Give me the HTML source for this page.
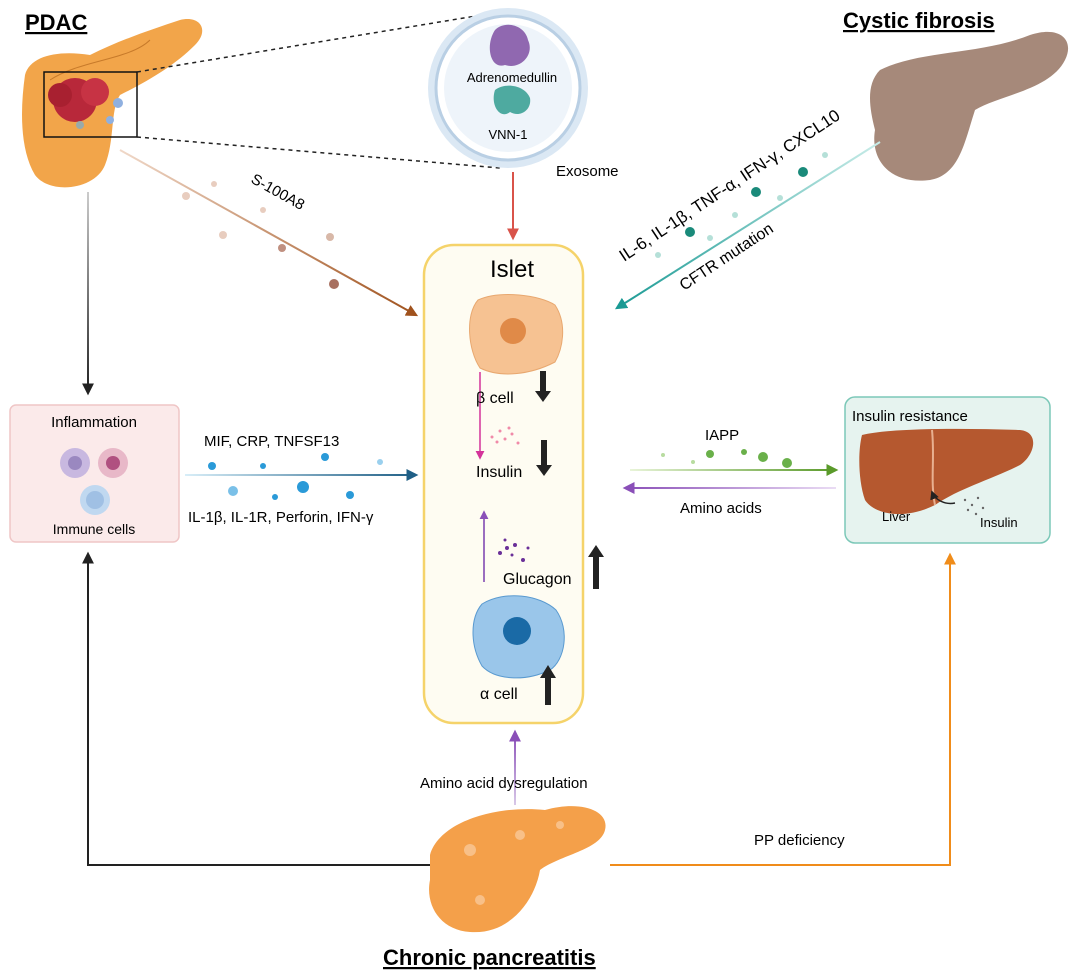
<!DOCTYPE html>
<html><head><meta charset="utf-8"><style>
html,body{margin:0;padding:0;background:#fff}
svg{display:block;font-family:"Liberation Sans",Arial,sans-serif}
</style></head><body>
<svg width="1080" height="979" viewBox="0 0 1080 979" xmlns="http://www.w3.org/2000/svg">
<defs>
<marker id="ab" viewBox="0 0 10 10" refX="8" refY="5" markerWidth="6" markerHeight="6" orient="auto"><path d="M0,0L10,5L0,10z" fill="#222"/></marker>
<marker id="ar" viewBox="0 0 10 10" refX="8" refY="5" markerWidth="6" markerHeight="6" orient="auto"><path d="M0,0L10,5L0,10z" fill="#d9534a"/></marker>
<marker id="abr" viewBox="0 0 10 10" refX="8" refY="5" markerWidth="6" markerHeight="6" orient="auto"><path d="M0,0L10,5L0,10z" fill="#a0521d"/></marker>
<marker id="at" viewBox="0 0 10 10" refX="8" refY="5" markerWidth="6" markerHeight="6" orient="auto"><path d="M0,0L10,5L0,10z" fill="#1a9a94"/></marker>
<marker id="abl" viewBox="0 0 10 10" refX="8" refY="5" markerWidth="6" markerHeight="6" orient="auto"><path d="M0,0L10,5L0,10z" fill="#1f5f86"/></marker>
<marker id="ag" viewBox="0 0 10 10" refX="8" refY="5" markerWidth="6" markerHeight="6" orient="auto"><path d="M0,0L10,5L0,10z" fill="#5a9a2a"/></marker>
<marker id="ap" viewBox="0 0 10 10" refX="8" refY="5" markerWidth="6" markerHeight="6" orient="auto"><path d="M0,0L10,5L0,10z" fill="#8a4fb8"/></marker>
<marker id="apk" viewBox="0 0 10 10" refX="8" refY="5" markerWidth="6" markerHeight="6" orient="auto"><path d="M0,0L10,5L0,10z" fill="#d4339a"/></marker>
<marker id="ao" viewBox="0 0 10 10" refX="8" refY="5" markerWidth="6" markerHeight="6" orient="auto"><path d="M0,0L10,5L0,10z" fill="#f08c1a"/></marker>
<linearGradient id="gbr" gradientUnits="userSpaceOnUse" x1="120" y1="150" x2="416" y2="315"><stop offset="0" stop-color="#f0d8c8"/><stop offset="1" stop-color="#a0521d"/></linearGradient>
<linearGradient id="gt" gradientUnits="userSpaceOnUse" x1="880" y1="142" x2="617" y2="308"><stop offset="0" stop-color="#c8ece8"/><stop offset="1" stop-color="#1a9a94"/></linearGradient>
<linearGradient id="gbl" gradientUnits="userSpaceOnUse" x1="185" y1="0" x2="416" y2="0"><stop offset="0" stop-color="#d8eef8"/><stop offset="1" stop-color="#1f5f86"/></linearGradient>
<linearGradient id="gg" gradientUnits="userSpaceOnUse" x1="630" y1="0" x2="836" y2="0"><stop offset="0" stop-color="#e8f4d8"/><stop offset="1" stop-color="#5a9a2a"/></linearGradient>
<linearGradient id="gp" gradientUnits="userSpaceOnUse" x1="836" y1="0" x2="625" y2="0"><stop offset="0" stop-color="#eadcf4"/><stop offset="1" stop-color="#8a4fb8"/></linearGradient>
<linearGradient id="gk" gradientUnits="userSpaceOnUse" x1="0" y1="192" x2="0" y2="393"><stop offset="0" stop-color="#ccc"/><stop offset="1" stop-color="#222"/></linearGradient>
<linearGradient id="gpv" gradientUnits="userSpaceOnUse" x1="0" y1="805" x2="0" y2="732"><stop offset="0" stop-color="#d8c8e8"/><stop offset="1" stop-color="#8a4fb8"/></linearGradient>
</defs>

<!-- PDAC pancreas -->
<path d="M25,75 C30,55 60,50 90,55 C120,40 150,30 180,20 C200,15 210,30 195,45 C175,65 150,80 120,95 C110,110 115,140 105,165 C95,190 50,195 35,175 C20,150 20,110 25,75z" fill="#f2a54a"/>
<path d="M50,80 C80,60 130,60 150,40" stroke="#c77a2a" stroke-width="1" fill="none"/>
<circle cx="75" cy="100" r="22" fill="#b8283a"/><circle cx="95" cy="92" r="14" fill="#c73344"/><circle cx="60" cy="95" r="12" fill="#a82030"/>
<circle cx="118" cy="103" r="5" fill="#8fb0e0"/><circle cx="110" cy="120" r="4" fill="#8fb0e0"/><circle cx="80" cy="125" r="4" fill="#9aa"/>
<rect x="44" y="72" width="93" height="65" fill="none" stroke="#111" stroke-width="1.5"/>
<line x1="137" y1="72" x2="500" y2="12" stroke="#222" stroke-width="1.5" stroke-dasharray="4,4"/>
<line x1="137" y1="137" x2="500" y2="168" stroke="#222" stroke-width="1.5" stroke-dasharray="4,4"/>
<text x="25" y="30" font-size="22" font-weight="bold" text-decoration="underline">PDAC</text>

<!-- Exosome -->
<circle cx="508" cy="88" r="80" fill="#dbe8f4"/>
<circle cx="508" cy="88" r="72" fill="#fff" stroke="#b9cfe4" stroke-width="3"/>
<circle cx="508" cy="88" r="64" fill="#eef4fa"/>
<path d="M495,30 C505,20 525,25 528,40 C535,55 520,70 505,65 C490,70 485,45 495,30z" fill="#9068b0"/>
<path d="M495,90 C505,82 525,85 530,98 C532,110 520,118 510,112 C500,120 490,105 495,90z" fill="#4eaaa0"/>
<text x="512" y="82" font-size="13" text-anchor="middle">Adrenomedullin</text>
<text x="508" y="139" font-size="13" text-anchor="middle">VNN-1</text>
<text x="556" y="176" font-size="15">Exosome</text>
<line x1="513" y1="172" x2="513" y2="238" stroke="#d9534a" stroke-width="2" marker-end="url(#ar)"/>

<!-- Cystic fibrosis -->
<path d="M880,70 C920,50 980,55 1030,35 C1060,25 1075,40 1065,60 C1050,90 1000,95 975,110 C965,140 960,175 930,180 C890,185 870,160 875,130 C870,110 865,85 880,70z" fill="#a6897a"/>
<text x="843" y="28" font-size="22" font-weight="bold" text-decoration="underline">Cystic fibrosis</text>
<line x1="880" y1="142" x2="617" y2="308" stroke="url(#gt)" stroke-width="2" marker-end="url(#at)"/>
<g transform="translate(624,262) rotate(-33.5)"><text x="0" y="0" font-size="17">IL-6, IL-1β, TNF-α, IFN-γ, CXCL10</text></g>
<g transform="translate(684,291) rotate(-33.5)"><text x="0" y="0" font-size="16">CFTR mutation</text></g>
<circle cx="690" cy="232" r="5" fill="#1a8a7a"/><circle cx="756" cy="192" r="5" fill="#1a8a7a"/><circle cx="803" cy="172" r="5" fill="#1a8a7a"/>
<circle cx="658" cy="255" r="3" fill="#b5e0d8"/><circle cx="710" cy="238" r="3" fill="#b5e0d8"/><circle cx="735" cy="215" r="3" fill="#b5e0d8"/><circle cx="780" cy="198" r="3" fill="#b5e0d8"/><circle cx="825" cy="155" r="3" fill="#b5e0d8"/>

<!-- S-100A8 -->
<line x1="120" y1="150" x2="416" y2="315" stroke="url(#gbr)" stroke-width="2" marker-end="url(#abr)"/>
<g transform="translate(250,182) rotate(29)"><text font-size="15">S-100A8</text></g>
<circle cx="186" cy="196" r="4" fill="#e8cdbf"/><circle cx="223" cy="235" r="4" fill="#e8cdbf"/><circle cx="263" cy="210" r="3" fill="#e8cdbf"/><circle cx="282" cy="248" r="4" fill="#c09080"/><circle cx="330" cy="237" r="4" fill="#d8b8a8"/><circle cx="334" cy="284" r="5" fill="#a87060"/><circle cx="214" cy="184" r="3" fill="#e8cdbf"/>

<!-- Left black arrow -->
<line x1="88" y1="192" x2="88" y2="393" stroke="url(#gk)" stroke-width="2" marker-end="url(#ab)"/>

<!-- Inflammation box -->
<rect x="10" y="405" width="169" height="137" rx="6" fill="#fbeaea" stroke="#efc6c6" stroke-width="1.5"/>
<text x="94" y="427" font-size="15" text-anchor="middle">Inflammation</text>
<circle cx="75" cy="463" r="15" fill="#c8b8e0"/><circle cx="75" cy="463" r="7" fill="#9a88c0"/>
<circle cx="113" cy="463" r="15" fill="#e8b8c8"/><circle cx="113" cy="463" r="7" fill="#b05080"/>
<circle cx="95" cy="500" r="15" fill="#c0d8f0"/><circle cx="95" cy="500" r="9" fill="#a0c0e4"/>
<text x="94" y="534" font-size="14" text-anchor="middle">Immune cells</text>

<!-- Blue arrow -->
<line x1="185" y1="475" x2="416" y2="475" stroke="url(#gbl)" stroke-width="2" marker-end="url(#abl)"/>
<text x="204" y="446" font-size="15">MIF, CRP, TNFSF13</text>
<text x="188" y="522" font-size="15">IL-1β, IL-1R, Perforin, IFN-γ</text>
<circle cx="212" cy="466" r="4" fill="#2a9ad8"/><circle cx="263" cy="466" r="3" fill="#2a9ad8"/><circle cx="325" cy="457" r="4" fill="#2a9ad8"/><circle cx="380" cy="462" r="3" fill="#9ad0ee"/>
<circle cx="233" cy="491" r="5" fill="#7ac0e8"/><circle cx="275" cy="497" r="3" fill="#2a9ad8"/><circle cx="303" cy="487" r="6" fill="#2a9ad8"/><circle cx="350" cy="495" r="4" fill="#2a9ad8"/>

<!-- Islet -->
<rect x="424" y="245" width="159" height="478" rx="30" fill="#fefcf2" stroke="#f5d36a" stroke-width="2.5"/>
<text x="512" y="277" font-size="24" text-anchor="middle">Islet</text>
<path d="M478,300 C500,290 540,295 555,305 C568,325 562,350 555,362 C530,375 500,378 480,368 C468,350 465,315 478,300z" fill="#f6c292" stroke="#e8a870"/>
<circle cx="513" cy="331" r="13" fill="#e08a48"/>
<line x1="480" y1="372" x2="480" y2="458" stroke="#d4339a" stroke-width="1.5" marker-end="url(#apk)"/>
<text x="476" y="403" font-size="16">β cell</text>
<path d="M540,371 h6 v20 h5 l-8,11 l-8,-11 h5z" fill="#222"/>
<g fill="#f08aa8"><circle cx="492" cy="437" r="1.5"/><circle cx="500" cy="431" r="1.5"/><circle cx="505" cy="439" r="1.5"/><circle cx="512" cy="434" r="1.5"/><circle cx="497" cy="442" r="1.5"/><circle cx="518" cy="443" r="1.5"/><circle cx="509" cy="428" r="1.5"/></g>
<text x="476" y="477" font-size="16">Insulin</text>
<path d="M541,440 h6 v25 h5 l-8,11 l-8,-11 h5z" fill="#222"/>
<line x1="484" y1="582" x2="484" y2="512" stroke="#7a3fb0" stroke-width="1.5" marker-end="url(#ap)"/>
<g fill="#6a2f98"><circle cx="500" cy="553" r="2"/><circle cx="507" cy="548" r="2"/><circle cx="515" cy="545" r="2"/><circle cx="512" cy="555" r="1.5"/><circle cx="523" cy="560" r="2"/><circle cx="505" cy="540" r="1.5"/><circle cx="528" cy="548" r="1.5"/></g>
<text x="503" y="584" font-size="16">Glucagon</text>
<path d="M599,557 h-6 v32 h6z M596,545 l8,12 h-16z" fill="#222"/>
<path d="M482,604 C505,590 540,595 556,610 C570,630 565,660 550,670 C525,682 495,680 482,666 C470,645 470,618 482,604z" fill="#9ac6ea" stroke="#5a9ad0"/>
<circle cx="517" cy="631" r="14" fill="#1a6aa6"/>
<text x="480" y="699" font-size="16">α cell</text>
<path d="M551,678 h-6 v27 h6z M548,665 l8,13 h-16z" fill="#222"/>

<!-- Insulin resistance -->
<line x1="630" y1="470" x2="836" y2="470" stroke="url(#gg)" stroke-width="2" marker-end="url(#ag)"/>
<line x1="836" y1="488" x2="625" y2="488" stroke="url(#gp)" stroke-width="2" marker-end="url(#ap)"/>
<text x="705" y="440" font-size="15">IAPP</text>
<text x="680" y="513" font-size="15">Amino acids</text>
<g fill="#6ab04a"><circle cx="710" cy="454" r="4"/><circle cx="744" cy="452" r="3"/><circle cx="763" cy="457" r="5"/><circle cx="787" cy="463" r="5"/><circle cx="663" cy="455" r="2" fill="#b8dca0"/><circle cx="693" cy="462" r="2" fill="#b8dca0"/></g>
<rect x="845" y="397" width="205" height="146" rx="10" fill="#e6f3ef" stroke="#7cc8b8" stroke-width="1.5"/>
<text x="852" y="421" font-size="15">Insulin resistance</text>
<path d="M862,435 C890,428 960,428 1020,430 C1040,432 1035,455 1020,465 C990,480 960,488 935,505 C905,520 875,515 865,500 C858,480 858,450 862,435z" fill="#b5582f"/>
<path d="M932,430 C935,460 930,480 935,505" stroke="#e8b090" stroke-width="2" fill="none"/>
<text x="882" y="521" font-size="13">Liver</text>
<text x="980" y="527" font-size="13">Insulin</text>
<path d="M955,503 C945,505 935,500 932,492" stroke="#222" stroke-width="1.5" fill="none" marker-end="url(#ab)"/>
<g fill="#666"><circle cx="965" cy="500" r="1.2"/><circle cx="972" cy="505" r="1.2"/><circle cx="978" cy="498" r="1.2"/><circle cx="983" cy="508" r="1.2"/><circle cx="968" cy="510" r="1.2"/><circle cx="976" cy="514" r="1.2"/></g>

<!-- Chronic pancreatitis -->
<path d="M430,855 C440,820 500,805 545,810 C580,800 610,810 605,830 C600,850 560,855 540,870 C535,900 510,935 470,932 C440,930 425,905 430,880z" fill="#f4a04a"/>
<g fill="#f8c088"><circle cx="470" cy="850" r="6"/><circle cx="520" cy="835" r="5"/><circle cx="560" cy="825" r="4"/><circle cx="480" cy="900" r="5"/></g>
<line x1="515" y1="805" x2="515" y2="732" stroke="url(#gpv)" stroke-width="2" marker-end="url(#ap)"/>
<text x="420" y="788" font-size="15">Amino acid dysregulation</text>
<path d="M430,865 H88 V554" stroke="#222" stroke-width="2" fill="none" marker-end="url(#ab)"/>
<path d="M610,865 H950 V555" stroke="#f08c1a" stroke-width="2" fill="none" marker-end="url(#ao)"/>
<text x="754" y="845" font-size="15">PP deficiency</text>
<text x="383" y="965" font-size="22" font-weight="bold" text-decoration="underline">Chronic pancreatitis</text>
</svg>
</body></html>
